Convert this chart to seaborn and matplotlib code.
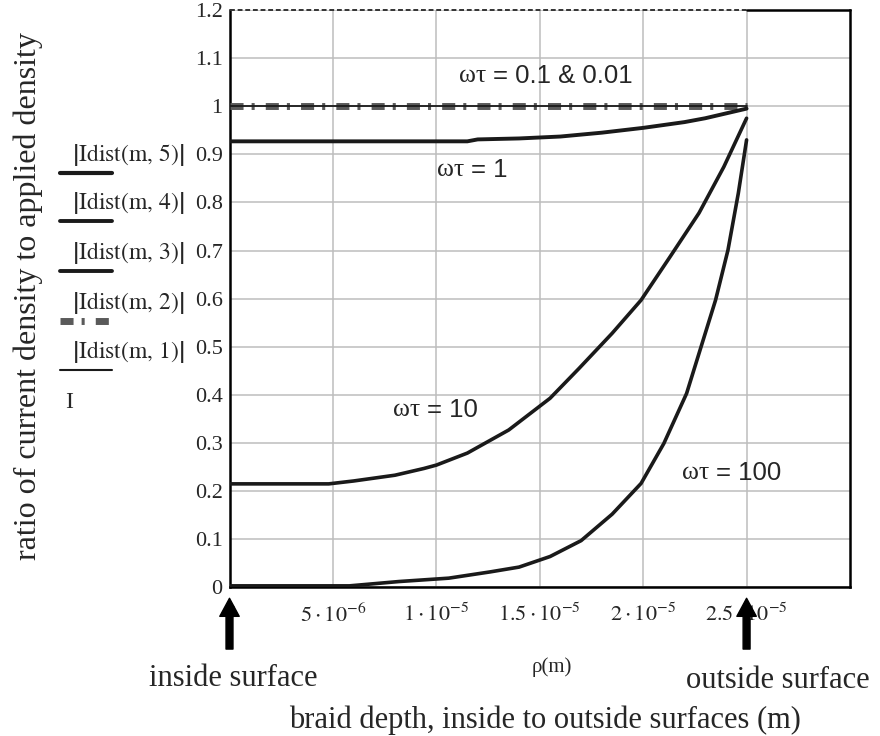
import numpy as np
import matplotlib.pyplot as plt
from matplotlib.lines import Line2D
import seaborn as sns

# Depth through the braid (m) and ratio of current density to applied density
rho_flat = [0, 2.5e-5]
ratio_wt001 = [1.0, 1.0]
ratio_wt01 = [1.0, 1.0]

rho_wt1 = [0, 11.5e-6, 12e-6, 14e-6, 16e-6, 18e-6, 20e-6, 21e-6, 22e-6, 23e-6, 24e-6, 25e-6]
ratio_wt1 = [0.927, 0.927, 0.931, 0.933, 0.937, 0.945, 0.955, 0.961, 0.967, 0.975, 0.985, 0.995]

rho_wt10 = [0, 4.8e-6, 6e-6, 8e-6, 9.4e-6, 10e-6, 11.5e-6, 13.5e-6, 15.5e-6, 16.9e-6,
            18.5e-6, 19.9e-6, 21.3e-6, 22.7e-6, 23.9e-6, 25e-6]
ratio_wt10 = [0.215, 0.215, 0.221, 0.233, 0.247, 0.254, 0.279, 0.327, 0.393, 0.455,
              0.528, 0.597, 0.687, 0.778, 0.874, 0.975]

rho_wt100 = [0, 5.8e-6, 8.2e-6, 10.6e-6, 12.6e-6, 14e-6, 15.5e-6, 17e-6, 18.5e-6, 19.9e-6,
             21e-6, 22.1e-6, 22.8e-6, 23.5e-6, 24.1e-6, 24.6e-6, 25e-6]
ratio_wt100 = [0.003, 0.003, 0.012, 0.019, 0.032, 0.042, 0.064, 0.097, 0.152, 0.216,
               0.299, 0.403, 0.5, 0.597, 0.701, 0.819, 0.93]

x_ticks = [0, 5e-6, 1e-5, 1.5e-5, 2e-5, 2.5e-5]
x_tick_labels = ["0", r"$5\cdot10^{-6}$", r"$1\cdot10^{-5}$", r"$1.5\cdot10^{-5}$",
                 r"$2\cdot10^{-5}$", r"$2.5\cdot10^{-5}$"]
y_ticks = [0, 0.1, 0.2, 0.3, 0.4, 0.5, 0.6, 0.7, 0.8, 0.9, 1.0, 1.1, 1.2]
y_tick_labels = ["0", "0.1", "0.2", "0.3", "0.4", "0.5", "0.6", "0.7", "0.8", "0.9", "1", "1.1", "1.2"]
legend_labels = ["Idist(m,\\,5)", "Idist(m,\\,4)", "Idist(m,\\,3)", "Idist(m,\\,2)", "Idist(m,\\,1)"]

sns.set_style('white')
plt.rcParams['font.family'] = ['Liberation Serif', 'DejaVu Serif']
plt.rcParams['mathtext.fontset'] = 'stix'
plt.rcParams['lines.scale_dashes'] = False

ink = '#1a1a1a'
grey_dd = '#5a5a5a'
dashdot = (0, (9.4, 5.8, 2.2, 8.0))

fig = plt.figure(figsize=(8.8, 7.36), dpi=100)
W, H = 880, 736
ax = fig.add_axes([229.5 / W, 1 - 587.3 / H, (850 - 229.5) / W, (587.3 - 10) / H])

# curves
sns.lineplot(x=rho_flat, y=ratio_wt01, ax=ax, color=grey_dd, linewidth=5.0,
             linestyle=dashdot, estimator=None, zorder=3)
sns.lineplot(x=rho_flat, y=ratio_wt001, ax=ax, color=ink, linewidth=1.3, estimator=None, zorder=4)
sns.lineplot(x=rho_wt1, y=ratio_wt1, ax=ax, color=ink, linewidth=2.8, estimator=None, zorder=4)
sns.lineplot(x=rho_wt10, y=ratio_wt10, ax=ax, color=ink, linewidth=2.6, estimator=None, zorder=4)
sns.lineplot(x=rho_wt100, y=ratio_wt100, ax=ax, color=ink, linewidth=2.6, estimator=None, zorder=4)

ax.set_xlim(0, 3e-5)
ax.set_ylim(0, 1.2)
ax.set_xticks(x_ticks, x_tick_labels, fontsize=16)
ax.set_yticks(y_ticks, y_tick_labels, fontsize=16)
ax.tick_params(axis='x', length=0, pad=12)
ax.tick_params(axis='y', length=0, pad=5)
ax.grid(True, color='#bdbdbd', linewidth=1.1)
ax.set_xlabel('')
ax.set_ylabel('')

for side in ['left', 'bottom', 'right']:
    ax.spines[side].set_color('black')
    ax.spines[side].set_linewidth(1.8)
ax.spines['top'].set_visible(False)
ax.axhline(1.2, xmin=0, xmax=2.5 / 3, color='#333333', linewidth=1.4,
           linestyle=(0, (3.5, 2.0)), clip_on=False, zorder=5)
ax.axhline(1.2, xmin=2.5 / 3, xmax=1, color='black', linewidth=1.8, clip_on=False, zorder=5)

# curve labels
sans = ['Liberation Sans', 'DejaVu Sans']
curve_labels = [(12.74e-6, 1.062, "0.1 & 0.01"), (11.67e-6, 0.868, "1"),
                (9.55e-6, 0.369, "10"), (23.51e-6, 0.238, "100")]
for xl, yl, val in curve_labels:
    ax.text(xl, yl, "ωτ ", fontsize=18.5, ha='right', va='center')
    ax.text(xl, yl, "= " + val, fontsize=18.5, ha='left', va='center', family=sans)

# arrows marking the surfaces
for xa in [0, 2.5e-5]:
    ax.annotate('', xy=(xa, -0.019), xycoords=('data', 'axes fraction'),
                xytext=(xa, -0.107), textcoords=('data', 'axes fraction'),
                arrowprops=dict(facecolor='black', edgecolor='black', width=5,
                                headwidth=14, headlength=13, shrink=0))

# y axis label block (Mathcad style)
fig.text(28 / W, 1 - 296 / H, "ratio of current density to applied density",
         rotation=90, fontsize=23, ha='center', va='center')
row_y = [155, 203, 253, 303, 352]
line_styles = [dict(color=ink, lw=3.0), dict(color=ink, lw=2.8), dict(color=ink, lw=2.8),
               dict(color=grey_dd, lw=5.0, ls=dashdot), dict(color=ink, lw=1.5)]
for ry, lab, st in zip(row_y, legend_labels, line_styles):
    fig.text(128 / W, 1 - ry / H, r"$\left|\mathrm{" + lab + r"}\right|$",
             fontsize=17, ha='center', va='center')
    fig.add_artist(Line2D([60 / W, 112 / W], [1 - (ry + 18) / H] * 2, **st))
fig.text(69 / W, 1 - 403 / H, "I", fontsize=17, ha='center', va='center')

# x labels
fig.text(552 / W, 1 - 667 / H, "ρ(m)", fontsize=15, ha='center', va='center')
fig.text(233 / W, 1 - 678 / H, "inside surface", fontsize=22, ha='center', va='center')
fig.text(778 / W, 1 - 680 / H, "outside surface", fontsize=22, ha='center', va='center')
fig.text(544.5 / W, 1 - 720 / H, "braid depth, inside to outside surfaces (m)",
         fontsize=22, ha='center', va='center')

plt.savefig('out.png', dpi=100)
